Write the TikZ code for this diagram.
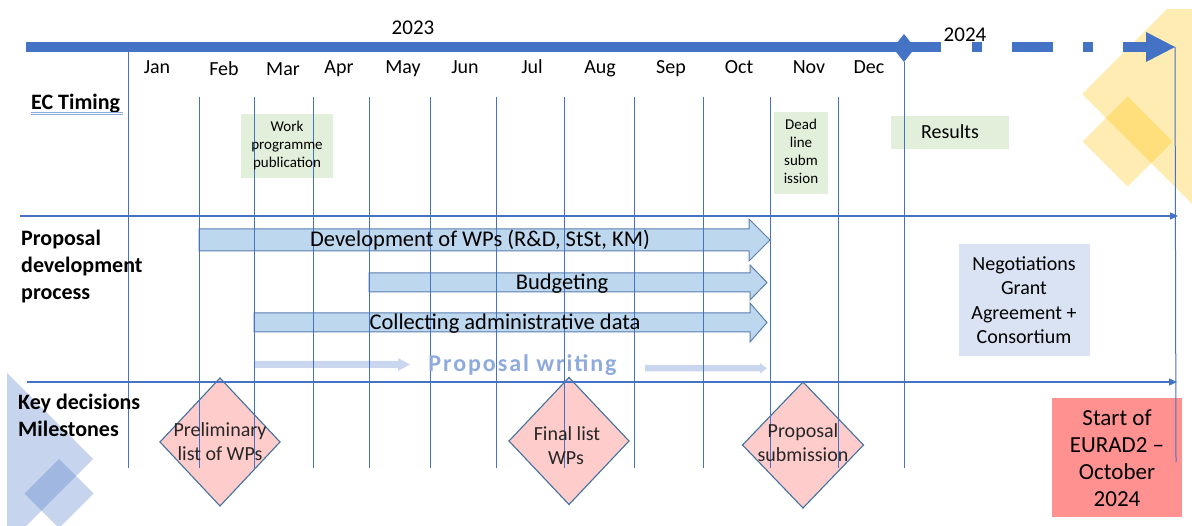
\documentclass[tikz,border=0pt]{standalone}
\usepackage{fontspec}
\setmainfont{Carlito}
\usetikzlibrary{arrows.meta}
\definecolor{bar}{HTML}{4472C4}
\definecolor{gold}{HTML}{FFC000}
\definecolor{greenbg}{HTML}{E2EFDA}
\definecolor{negbg}{HTML}{DAE3F3}
\definecolor{startbg}{HTML}{FF9191}
\definecolor{arrowfill}{HTML}{BDD7EE}
\definecolor{arrowline}{HTML}{5B7FAE}
\definecolor{pinkfill}{HTML}{FFCCCC}
\definecolor{diaedge}{HTML}{41719C}
\definecolor{writecol}{HTML}{8FAADC}
\definecolor{writearrow}{HTML}{C9D6EE}
\definecolor{dtext}{HTML}{262626}
\begin{document}
\begin{tikzpicture}[x=1bp,y=-1bp,
  vline/.style={draw=bar, line width=1bp},
  hline/.style={draw=bar, line width=1.2bp, -{Triangle[length=8bp,width=7bp]}},
  month/.style={anchor=base, inner sep=0, font=\fontsize{20bp}{24bp}\selectfont},
  lab/.style={anchor=base west, inner sep=0, font=\fontsize{22bp}{27bp}\selectfont\bfseries},
  small/.style={anchor=base, inner sep=0, font=\fontsize{15bp}{18bp}\selectfont},
  mid/.style={anchor=base, inner sep=0, font=\fontsize{20bp}{24bp}\selectfont},
  midd/.style={mid, text=dtext},
  arrtext/.style={anchor=base, inner sep=0, font=\fontsize{22.5bp}{27bp}\selectfont},
  big/.style={anchor=base, inner sep=0, font=\fontsize{23bp}{27bp}\selectfont},
  blockarrow/.style={fill=arrowfill, draw=arrowline, line width=1bp},
  milestone/.style={fill=pinkfill, draw=diaedge, line width=1.1bp},
  plainbox/.style={draw=none, inner sep=0, anchor=north west},
  decogold/.style={fill=gold, fill opacity=.3},
  decoblue/.style={fill=bar, fill opacity=.3},
  wrarrow/.style={fill=writearrow},
]
\useasboundingbox (0,0) rectangle (1192,526);

% decorations
\path[decogold] (1082,94) -- (1167,9) -- (1192,9) -- (1192,204) -- cycle;
\path[decogold] (1127.5,96.5) -- (1172.5,141.5) -- (1127.5,186.5) -- (1082.5,141.5) -- cycle;
\path[decoblue] (7,373) -- (93,459) -- (26,526) -- (7,526) -- cycle;
\path[decoblue] (59,459) -- (93.5,493.5) -- (59,528) -- (24.5,493.5) -- cycle;

% timeline bar
\fill[bar] (26,42) rectangle (941,52);
\fill[bar] (904,34) -- (915,48) -- (904,62) -- (893,48) -- cycle;
\fill[bar] (972,42) rectangle (982,52);
\fill[bar] (1012,42) rectangle (1053,52);
\fill[bar] (1083,42) rectangle (1093,52);
\fill[bar] (1123,42) rectangle (1147,52);
\fill[bar] (1146,32) -- (1175,47) -- (1146,62) -- cycle;
\coordinate (tip) at (1175,47);

% boxes
\node[plainbox, fill=greenbg, minimum width=92bp, minimum height=64bp] (wpbox) at (241,114) {};
\node[plainbox, fill=greenbg, minimum width=54bp, minimum height=82bp] (dlbox) at (774,112) {};
\node[plainbox, fill=greenbg, minimum width=118bp, minimum height=33bp] (resbox) at (891,116) {};
\node[plainbox, fill=negbg, minimum width=131bp, minimum height=112bp] (negbox) at (959,244) {};
\node[plainbox, fill=startbg, minimum width=130bp, minimum height=119bp] (startbox) at (1052,398) {};

% block arrows
\path[blockarrow] (199,229) -- (749,229) -- (749,219) -- (770,240) -- (749,261) -- (749,251) -- (199,251) -- cycle;
\path[blockarrow] (369,273) -- (750,273) -- (750,265) -- (767,282.5) -- (750,300) -- (750,292) -- (369,292) -- cycle;
\path[blockarrow] (254,313) -- (750,313) -- (750,303) -- (767,322.5) -- (750,342) -- (750,332) -- (254,332) -- cycle;

% proposal writing arrows
\path[wrarrow] (254,361) -- (398,361) -- (398,358) -- (410,364.5) -- (398,371) -- (398,368) -- (254,368) -- cycle;
\path[wrarrow] (645,365) -- (760,365) -- (760,363) -- (767,368.3) -- (760,373.5) -- (760,371.5) -- (645,371.5) -- cycle;

% milestones
\path[milestone] (220,378) -- (280,442) -- (220,506) -- (160,442) -- cycle;
\path[milestone] (569,377.5) -- (629,441) -- (569,504.5) -- (509,441) -- cycle;
\path[milestone] (803,382) -- (863.5,445) -- (803,508) -- (742.5,445) -- cycle;

% grid lines
\draw[vline] (128,52) -- (128,468);
\foreach \x in {199,254,313,369,430,496,564,634,703,770,838}
  \draw[vline] (\x,97) -- (\x,468);
\draw[vline] (904,62) -- (904,468);
\draw[vline] (tip) -- (1176,462);
\coordinate (h1s) at (20,216);
\coordinate (h1e) at (1178,216);
\coordinate (h2s) at (27,382);
\coordinate (h2e) at (1177,382);
\draw[hline] (h1s) -- (h1e);
\draw[hline] (h2s) -- (h2e);

% years and months
\node[anchor=base, inner sep=0, font=\fontsize{21bp}{25bp}\selectfont] (y2023) at (413,35) {2023};
\node[anchor=base, inner sep=0, font=\fontsize{21bp}{25bp}\selectfont] (y2024) at (965,41.5) {2024};
\foreach \m/\x/\y in {Jan/157/74, Feb/224/76, Mar/283/76, Apr/339/74, May/403/74, Jun/465/74, Jul/532/74, Aug/600/74, Sep/671/74, Oct/739/74, Nov/809/74, Dec/869/74}
  \node[month] (m\m) at (\x,\y) {\m};

% left labels
\node[lab] (ec) at (31,109.3) {EC Timing};
\draw[writecol, line width=0.8bp] (31,112.3) -- (123,112.3) (31,114.6) -- (123,114.6);
\node[lab] (pd1) at (21,245.7) {Proposal};
\node[lab] (pd2) at (21,272.7) {development};
\node[lab] (pd3) at (21,299.7) {process};
\node[lab] (kd1) at (18,409) {Key decisions};
\node[lab] (kd2) at (18,436.5) {Milestones};

% box texts
\node[small] (wp1) at (287,132) {Work};
\node[small] (wp2) at (287,150) {programme};
\node[small] (wp3) at (287,168) {publication};
\node[small] (dl1) at (801,130) {Dead};
\node[small] (dl2) at (801,148) {line};
\node[small] (dl3) at (801,166) {subm};
\node[small] (dl4) at (801,184) {ission};
\node[mid] (res) at (950,139) {Results};
\node[mid] (ng1) at (1024,270.7) {Negotiations};
\node[mid] (ng2) at (1024,295) {Grant};
\node[mid] (ng3) at (1024,319.3) {Agreement +};
\node[mid] (ng4) at (1024,343.3) {Consortium};
\node[big] (st1) at (1117,425) {Start of};
\node[big] (st2) at (1117,452.3) {EURAD2 –};
\node[big] (st3) at (1117,479.3) {October};
\node[big] (st4) at (1117,506) {2024};

% arrow texts
\node[arrtext] (devt) at (480,247) {Development of WPs (R\&D, StSt, KM)};
\node[arrtext] (budt) at (562,289.3) {Budgeting};
\node[arrtext] (colt) at (505,329.3) {Collecting administrative data};
\node[anchor=base, inner sep=0, text=writecol, font=\fontsize{24bp}{28bp}\selectfont\bfseries\addfontfeature{LetterSpace=8}] (pw) at (522.5,372) {Proposal writing};

% milestone texts
\node[midd] (d1a) at (220,436) {Preliminary};
\node[midd] (d1b) at (220,460) {list of WPs};
\node[midd] (d2a) at (567,440.7) {Final list};
\node[midd] (d2b) at (566,464) {WPs};
\node[midd] (d3a) at (803,437.3) {Proposal};
\node[midd] (d3b) at (803,461.7) {submission};
\end{tikzpicture}
\end{document}
